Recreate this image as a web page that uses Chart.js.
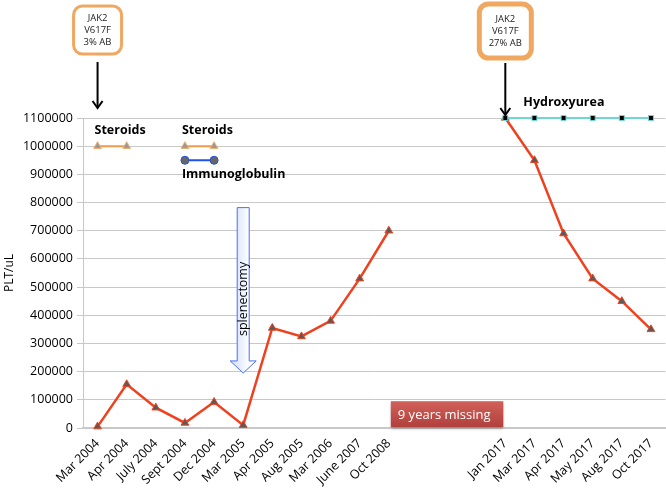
<!DOCTYPE html>
<html>
<head>
<meta charset="utf-8">
<script src="https://cdn.jsdelivr.net/npm/chart.js@4.4.1/dist/chart.umd.min.js"></script>
<style>
  html, body { margin: 0; padding: 0; background: #fff; overflow: hidden; }
  #wrap { width: 666px; height: 490px; overflow: hidden; }
</style>
</head>
<body>
<!-- canvas is a few px wider than the window so the plot reaches the right edge -->
<div id="wrap"><canvas id="chart" width="671" height="490"></canvas></div>
<script>
// categories (three blank slots stand for the missing years)
const labels = [
  "Mar 2004", "Apr 2004", "July 2004", "Sept 2004", "Dec 2004", "Mar 2005",
  "Apr 2005", "Aug 2005", "Mar 2006", "June 2007", "Oct 2008",
  "", "", "",
  "Jan 2017", "Mar 2017", "Apr 2017", "May 2017", "Aug 2017", "Oct 2017"
];

const plt = [
  5000, 155000, 72000, 18000, 92000, 10000,
  355000, 325000, 380000, 530000, 700000,
  null, null, null,
  1100000, 950000, 690000, 530000, 450000, 350000
];

const steroids1 = [1000000, 1000000];
const steroids2 = [null, null, null, 1000000, 1000000];
const immunoglobulin = [null, null, null, 950000, 950000];
const hydroxyurea = [null, null, null, null, null, null, null, null, null, null, null, null, null, null,
  1100000, 1100000, 1100000, 1100000, 1100000, 1100000];

const yTicks = [0, 100000, 200000, 300000, 400000, 500000, 600000, 700000, 800000, 900000, 1000000, 1100000];

const FONT = '"Open Sans", "Noto Sans", sans-serif';

function roundRect(ctx, x, y, w, h, r) {
  ctx.beginPath();
  ctx.moveTo(x + r, y);
  ctx.arcTo(x + w, y, x + w, y + h, r);
  ctx.arcTo(x + w, y + h, x, y + h, r);
  ctx.arcTo(x, y + h, x, y, r);
  ctx.arcTo(x, y, x + w, y, r);
  ctx.closePath();
}

function downArrow(ctx, x, y1, y2) {
  ctx.save();
  ctx.strokeStyle = "#000";
  ctx.lineWidth = 2;
  ctx.beginPath();
  ctx.moveTo(x, y1);
  ctx.lineTo(x, y2);
  ctx.stroke();
  ctx.beginPath();
  ctx.moveTo(x - 5, y2 - 7);
  ctx.lineTo(x, y2);
  ctx.lineTo(x + 5, y2 - 7);
  ctx.stroke();
  ctx.restore();
}

function jakBox(ctx, cx, top, w, h, bw, lines) {
  ctx.save();
  ctx.strokeStyle = "#f0a860";
  ctx.lineWidth = bw;
  ctx.fillStyle = "#fff";
  roundRect(ctx, cx - w / 2, top, w, h, 9);
  ctx.fill();
  ctx.stroke();
  ctx.fillStyle = "#222";
  ctx.font = "9.5px " + FONT;
  ctx.textAlign = "center";
  ctx.textBaseline = "middle";
  lines.forEach((t, i) => ctx.fillText(t, cx, top + h / 2 - 12 + i * 12));
  ctx.restore();
}

const notes = {
  id: "notes",
  afterDatasetsDraw(chart) {
    const ctx = chart.ctx;
    const x = chart.scales.x, y = chart.scales.y;
    const px = i => x.getPixelForValue(i);
    const py = v => y.getPixelForValue(v);

    jakBox(ctx, px(0), 6, 48, 48, 3, ["JAK2", "V617F", "3% AB"]);
    downArrow(ctx, px(0), 62, py(1100000) - 10);
    jakBox(ctx, px(14), 4, 52, 54, 5, ["JAK2", "V617F", "27% AB"]);
    downArrow(ctx, px(14), 63, py(1100000) - 3);

    ctx.save();
    ctx.fillStyle = "#000";
    ctx.font = "bold 12.5px " + FONT;
    ctx.textBaseline = "middle";
    ctx.fillText("Steroids", px(0) - 3, py(1057000));
    ctx.fillText("Steroids", px(3) - 3, py(1057000));
    ctx.fillText("Immunoglobulin", px(3) - 3, py(898000));
    ctx.fillText("Hydroxyurea", px(14) + 18, py(1100000) - 16);
    ctx.restore();

    // splenectomy block arrow
    const ax = px(5);
    const top = py(782000), neck = py(238000), tip = py(195000);
    ctx.save();
    const g = ctx.createLinearGradient(ax - 6, 0, ax + 6, 0);
    g.addColorStop(0, "#dfe8ff");
    g.addColorStop(1, "#ffffff");
    ctx.fillStyle = g;
    ctx.strokeStyle = "#4a6ef0";
    ctx.lineWidth = 1;
    ctx.beginPath();
    ctx.moveTo(ax - 6, top);
    ctx.lineTo(ax + 6, top);
    ctx.lineTo(ax + 6, neck);
    ctx.lineTo(ax + 13, neck);
    ctx.lineTo(ax, tip);
    ctx.lineTo(ax - 13, neck);
    ctx.lineTo(ax - 6, neck);
    ctx.closePath();
    ctx.fill();
    ctx.stroke();
    ctx.translate(ax, py(458000));
    ctx.rotate(-Math.PI / 2);
    ctx.fillStyle = "#000";
    ctx.font = "12.5px " + FONT;
    ctx.textAlign = "center";
    ctx.textBaseline = "middle";
    ctx.fillText("splenectomy", 0, 0);
    ctx.restore();

    // "9 years missing" box
    const bx = px(10) + 2, bw = px(14) - px(10) - 4;
    const by = py(95000), bh = py(3000) - by;
    ctx.save();
    ctx.shadowColor = "rgba(0,0,0,0.35)";
    ctx.shadowBlur = 3;
    ctx.shadowOffsetY = 2;
    const rg = ctx.createLinearGradient(0, by, 0, by + bh);
    rg.addColorStop(0, "#d2605a");
    rg.addColorStop(1, "#b0403c");
    ctx.fillStyle = rg;
    ctx.fillRect(bx, by, bw, bh);
    ctx.shadowColor = "transparent";
    ctx.fillStyle = "#fff";
    ctx.font = "13px " + FONT;
    ctx.textBaseline = "middle";
    ctx.fillText("9 years missing", bx + 7, by + bh / 2 + 1);
    ctx.restore();
  }
};

new Chart(document.getElementById("chart"), {
  type: "line",
  data: {
    labels,
    datasets: [
      {
        label: "Hydroxyurea",
        data: hydroxyurea,
        borderColor: "#6fd6d6",
        borderWidth: 2,
        pointStyle: "rect",
        pointRadius: 3.5,
        pointBackgroundColor: "#000",
        pointBorderColor: "#6fd6d6",
        pointBorderWidth: 1,
        clip: false,
        order: 0
      },
      {
        label: "PLT",
        data: plt,
        borderColor: "#f0401e",
        borderWidth: 2.5,
        pointStyle: "triangle",
        pointRadius: 4.5,
        pointBackgroundColor: "#5a5a5a",
        pointBorderColor: "#f0401e",
        pointBorderWidth: 1,
        spanGaps: false,
        clip: false,
        order: 1
      },
      {
        label: "Steroids",
        data: steroids1,
        borderColor: "#f29a4a",
        borderWidth: 2,
        pointStyle: "triangle",
        pointRadius: 4.5,
        pointBackgroundColor: "#999",
        pointBorderColor: "#f2b070",
        pointBorderWidth: 1,
        order: 2
      },
      {
        label: "Steroids 2",
        data: steroids2,
        borderColor: "#f29a4a",
        borderWidth: 2,
        pointStyle: "triangle",
        pointRadius: 4.5,
        pointBackgroundColor: "#999",
        pointBorderColor: "#f2b070",
        pointBorderWidth: 1,
        order: 2
      },
      {
        label: "Immunoglobulin",
        data: immunoglobulin,
        borderColor: "#2050f0",
        borderWidth: 2,
        pointStyle: "circle",
        pointRadius: 4,
        pointBackgroundColor: "#666",
        pointBorderColor: "#2050f0",
        pointBorderWidth: 1,
        order: 2
      }
    ]
  },
  options: {
    responsive: false,
    animation: false,
    layout: { padding: { top: 118, right: 0, left: 0, bottom: 0 } },
    scales: {
      y: {
        min: 0,
        max: 1100000,
        afterBuildTicks: axis => { axis.ticks = yTicks.map(v => ({ value: v })); },
        afterFit: axis => { axis.width = 83; },
        grid: { color: "#c8c8c8", drawTicks: true, tickLength: 6, tickColor: "#c8c8c8" },
        border: { color: "#c8c8c8" },
        ticks: {
          color: "#000",
          font: { family: FONT, size: 12.5 },
          padding: 4,
          callback: v => String(v)
        },
        title: { display: true, text: "PLT/uL", color: "#000", font: { family: FONT, size: 12 }, padding: 2 }
      },
      x: {
        offset: true,
        afterFit: axis => {
          axis.height = 62;
          axis.paddingLeft = 0;
          axis.paddingRight = 0;
        },
        grid: { display: false },
        border: { color: "#c8c8c8", width: 2 },
        ticks: {
          autoSkip: false,
          maxRotation: 45,
          minRotation: 45,
          color: "#000",
          font: { family: FONT, size: 12.5 },
          padding: 0
        }
      }
    },
    plugins: {
      legend: { display: false },
      tooltip: { enabled: false }
    }
  },
  plugins: [notes]
});
</script>
</body>
</html>
